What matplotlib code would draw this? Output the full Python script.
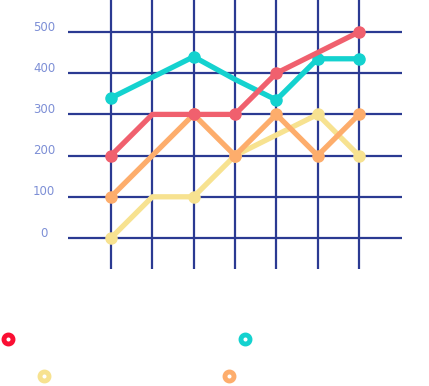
import matplotlib
matplotlib.use("Agg")
import matplotlib.pyplot as plt
from matplotlib.lines import Line2D

categories = [0, 1, 2, 3, 4, 5, 6]
y_ticks = [0, 100, 200, 300, 400, 500]
y_labels = ["0", "100", "200", "300", "400", "500"]

yellow_vals = [0, 100, 100, 200, 250, 300, 200]
orange_vals = [100, 200, 300, 200, 300, 200, 300]
cyan_vals = [340, 390, 440, 385, 335, 435, 435]
red_vals = [200, 300, 300, 300, 400, 450, 500]

yellow_marks = [0, 2, 3, 5, 6]
orange_marks = [0, 2, 3, 4, 5, 6]
cyan_marks = [0, 2, 4, 5, 6]
red_marks = [0, 2, 3, 4, 6]

C_RED = "#f0606e"
C_CYAN = "#14d2cf"
C_YEL = "#f7e290"
C_ORA = "#fdad6c"
GRID = "#2b3a92"
LABEL = "#7d8fd6"

W, H = 429, 386
fig = plt.figure(figsize=(W / 100, H / 100), dpi=100)
ax = fig.add_axes([0, 0, 1, 1])
ax.set_axis_off()

# pixel mapping: x index 0 -> 111px, 41.33 px per step; y 0 -> 238px, 0.412 px per unit
px_x = 41.33
px_y = 0.412
ax.set_xlim(-111 / px_x, (W - 111) / px_x)
ax.set_ylim((238 - H) / px_y, 238 / px_y)

x_lo, x_hi = (68 - 111) / px_x, (402 - 111) / px_x
y_lo, y_hi = (238 - 269) / px_y, 620

ax.hlines(y_ticks, x_lo, x_hi, colors=GRID, linewidth=1.6, zorder=1)
ax.vlines(categories, y_lo, y_hi, colors=GRID, linewidth=1.6, zorder=1)

for v, lab in zip(y_ticks, y_labels):
    ax.text((44 - 111) / px_x, v + 12, lab, color=LABEL, fontsize=8.5,
            ha="center", va="center", family="DejaVu Sans")

series = [
    (yellow_vals, yellow_marks, C_YEL, 2),
    (orange_vals, orange_marks, C_ORA, 3),
    (cyan_vals, cyan_marks, C_CYAN, 4),
    (red_vals, red_marks, C_RED, 5),
]
for vals, marks, col, z in series:
    ax.plot(categories, vals, color=col, linewidth=3.8, marker="o",
            markersize=8, markevery=marks, solid_joinstyle="round",
            solid_capstyle="round", zorder=z)

legend_items = [
    (7.5, 339, "#fa0f33"),
    (245, 339, "#14d2cf"),
    (44, 376, "#f7e290"),
    (229, 376, "#fdad6c"),
]
for lx, ly, col in legend_items:
    fig.add_artist(Line2D([lx / W], [1 - ly / H], transform=fig.transFigure,
                          marker="o", markersize=6.5, markeredgewidth=3.5,
                          markerfacecolor="white", markeredgecolor=col,
                          linestyle="none"))

fig.savefig("out.png", dpi=100, facecolor="white")
